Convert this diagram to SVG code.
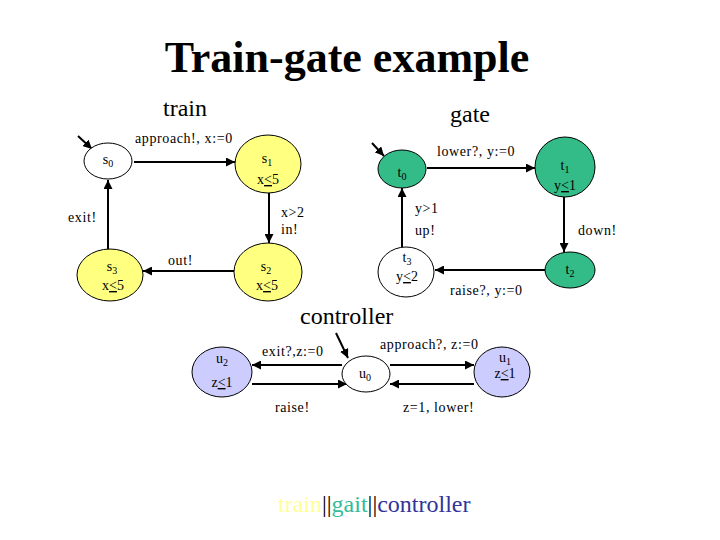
<svg xmlns="http://www.w3.org/2000/svg" width="720" height="540" viewBox="0 0 720 540">
<defs>
<marker id="ah" viewBox="0 0 10 10" refX="10" refY="5" markerWidth="4.5" markerHeight="4.5" orient="auto-start-reverse" markerUnits="strokeWidth">
<path d="M0,0 L10,5 L0,10 z" fill="#000"/>
</marker>
<style>
text{font-family:"Liberation Serif","Times New Roman","DejaVu Serif",serif}
.title{font-weight:bold;font-size:44px;fill:#000}
.head{font-size:24px;fill:#000}
.lbl{font-size:14px;fill:#000;letter-spacing:0.6px}
.nl{font-size:14px;fill:#000;text-anchor:middle}
.sub{font-size:10px}
.u{text-decoration:underline}
.edge{stroke:#000;stroke-width:2;fill:none;marker-end:url(#ah)}
.node{stroke:#000;stroke-width:1}
.y{fill:#ffff80}
.g{fill:#33bb88}
.b{fill:#ccccff}
.w{fill:#fff}
</style>
</defs>
<rect width="720" height="540" fill="#fff"/>
<text class="title" x="347" y="72" text-anchor="middle">Train-gate example</text>
<text class="head" x="163" y="116">train</text>
<text class="head" x="450" y="122">gate</text>
<text class="head" x="300" y="324">controller</text>

<g id="connectors">
<line class="edge" x1="78" y1="136" x2="92" y2="149"/>
<line class="edge" x1="134" y1="162" x2="235" y2="162"/>
<line class="edge" x1="269" y1="193" x2="269" y2="243"/>
<line class="edge" x1="234" y1="271" x2="143" y2="271"/>
<line class="edge" x1="108" y1="252" x2="108" y2="180"/>
<line class="edge" x1="372" y1="143" x2="384" y2="156"/>
<line class="edge" x1="427" y1="168" x2="535" y2="168"/>
<line class="edge" x1="564" y1="197" x2="564" y2="252"/>
<line class="edge" x1="545" y1="270" x2="435" y2="270"/>
<line class="edge" x1="402" y1="247" x2="402" y2="188"/>
<line class="edge" x1="336" y1="333" x2="348" y2="358"/>
<line class="edge" x1="342" y1="365" x2="252" y2="365"/>
<line class="edge" x1="252" y1="384" x2="347" y2="384"/>
<line class="edge" x1="390" y1="365" x2="474" y2="365"/>
<line class="edge" x1="474" y1="384" x2="390" y2="384"/>
<text class="lbl" x="135" y="143">approach!, x:=0</text>
<text class="lbl" x="281" y="217">x&gt;2</text>
<text class="lbl" x="281" y="234">in!</text>
<text class="lbl" x="168" y="265">out!</text>
<text class="lbl" x="68" y="222">exit!</text>
<text class="lbl" x="437" y="156">lower?, y:=0</text>
<text class="lbl" x="415" y="213">y&gt;1</text>
<text class="lbl" x="415" y="235">up!</text>
<text class="lbl" x="578" y="235">down!</text>
<text class="lbl" x="450" y="295">raise?, y:=0</text>
<text class="lbl" x="262" y="356">exit?,z:=0</text>
<text class="lbl" x="380" y="349">approach?, z:=0</text>
<text class="lbl" x="275" y="412">raise!</text>
<text class="lbl" x="403" y="412">z=1, lower!</text>
</g>

<g id="s0"><ellipse class="node w" cx="108" cy="161" rx="24" ry="18"/><text class="nl" x="108" y="164">s<tspan class="sub" dy="3">0</tspan></text></g>
<g id="s1"><ellipse class="node y" cx="268" cy="164" rx="33" ry="29"/><text class="nl" x="267" y="163">s<tspan class="sub" dy="3">1</tspan></text><text class="nl" x="268" y="184">x<tspan class="u">&lt;</tspan>5</text></g>
<g id="s2"><ellipse class="node y" cx="268" cy="272" rx="34" ry="29"/><text class="nl" x="266" y="271">s<tspan class="sub" dy="3">2</tspan></text><text class="nl" x="267" y="290">x<tspan class="u">&lt;</tspan>5</text></g>
<g id="s3"><ellipse class="node y" cx="110" cy="275" rx="33" ry="26"/><text class="nl" x="112" y="271">s<tspan class="sub" dy="3">3</tspan></text><text class="nl" x="113" y="290">x<tspan class="u">&lt;</tspan>5</text></g>

<g id="t0"><ellipse class="node g" cx="402" cy="169" rx="24" ry="19"/><text class="nl" x="402" y="177">t<tspan class="sub" dy="3">0</tspan></text></g>
<g id="t1"><ellipse class="node g" cx="565" cy="167" rx="30" ry="30"/><text class="nl" x="565" y="170">t<tspan class="sub" dy="3">1</tspan></text><text class="nl" x="565" y="190">y<tspan class="u">&lt;</tspan>1</text></g>
<g id="t2"><ellipse class="node g" cx="570" cy="270" rx="25" ry="18"/><text class="nl" x="570" y="274">t<tspan class="sub" dy="3">2</tspan></text></g>
<g id="t3"><ellipse class="node w" cx="406" cy="272" rx="28" ry="25"/><text class="nl" x="407" y="262">t<tspan class="sub" dy="3">3</tspan></text><text class="nl" x="407" y="281">y<tspan class="u">&lt;</tspan>2</text></g>

<g id="u0"><ellipse class="node w" cx="366" cy="374" rx="24" ry="18"/><text class="nl" x="365" y="378">u<tspan class="sub" dy="3">0</tspan></text></g>
<g id="u1"><ellipse class="node b" cx="502" cy="372" rx="28" ry="25"/><text class="nl" x="505" y="362">u<tspan class="sub" dy="3">1</tspan></text><text class="nl" x="505" y="378">z<tspan class="u">&lt;</tspan>1</text></g>
<g id="u2"><ellipse class="node b" cx="222" cy="372" rx="30" ry="25"/><text class="nl" x="222" y="363">u<tspan class="sub" dy="3">2</tspan></text><text class="nl" x="222" y="387">z<tspan class="u">&lt;</tspan>1</text></g>

<text class="head" x="278" y="512"><tspan fill="#ffff99">train</tspan><tspan fill="#000">||</tspan><tspan fill="#33bb99">gait</tspan><tspan fill="#000">||</tspan><tspan fill="#333399">controller</tspan></text>
</svg>
